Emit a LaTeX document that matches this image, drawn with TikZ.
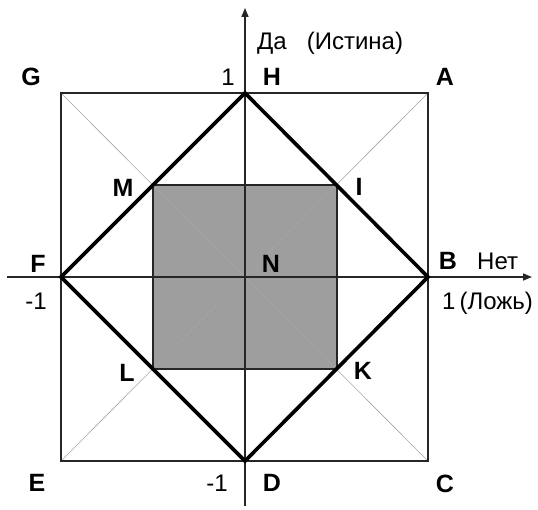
\documentclass[tikz,border=0pt]{standalone}
\usepackage{fontspec}
\setmainfont{Liberation Sans}
\usetikzlibrary{arrows.meta}
\begin{document}
\begin{tikzpicture}[x=1pt,y=-1pt,
  lbl/.style={font=\fontsize{25}{29}\selectfont\bfseries,inner sep=0pt},
  txt/.style={font=\fontsize{24}{28}\selectfont,inner sep=0pt},
  diag/.style={draw=gray!70,line width=0.6pt},
  axis/.style={draw=black!85,line width=1.6pt,-{Triangle[length=9pt,width=7pt]}},
  frame/.style={draw=black!85,line width=1.8pt},
  rhomb/.style={draw=black,line width=3.6pt,line join=miter},
  inner/.style={fill=black!38,draw=black!85,line width=1.6pt}]
\useasboundingbox (0,0) rectangle (538,510);
% corner points
\coordinate (pA) at (428,93);
\coordinate (pB) at (428,277);
\coordinate (pC) at (428,461);
\coordinate (pD) at (245,461);
\coordinate (pE) at (61,461);
\coordinate (pF) at (61,277);
\coordinate (pG) at (61,93);
\coordinate (pH) at (245,93);
\coordinate (pN) at (245,277);
\coordinate (pM) at (153,185);
\coordinate (pI) at (337,185);
\coordinate (pK) at (337,369);
\coordinate (pL) at (153,369);
\coordinate (xs) at (7,277);
\coordinate (xe) at (532,277);
\coordinate (ys) at (245,506);
\coordinate (ye) at (245,8);
% shaded square
\path[inner] (pM) -- (pI) -- (pK) -- (pL) -- cycle;
% diagonals
\draw[diag] (pG) -- (pC);
\draw[diag] (pA) -- (pE);
% axes
\draw[axis] (xs) -- (xe);
\draw[axis] (ys) -- (ye);
% outer square
\draw[frame] (pG) -- (pA) -- (pC) -- (pE) -- cycle;
% diamond
\draw[rhomb] (pH) -- (pB) -- (pD) -- (pF) -- cycle;
% labels
\node[lbl] (lG) at (31,77) {G};
\node[lbl] (lH) at (272,77) {H};
\node[txt] (o1) at (228,77) {1};
\node[lbl] (lA) at (445,77) {A};
\node[txt,anchor=base west] (yes) at (257,50) {Да\ \ \ (Истина)};
\node[lbl] (lM) at (123,188) {M};
\node[lbl] (lI) at (359,187) {I};
\node[lbl] (lF) at (38,264) {F};
\node[txt] (m1) at (36,301) {-1};
\node[lbl] (lN) at (271,264) {N};
\node[lbl] (lB) at (448,261) {B};
\node[txt,anchor=base west] (no) at (477,270) {Нет};
\node[txt,anchor=base west] (fl) at (442,310) {1\,(Ложь)};
\node[lbl] (lL) at (127,373) {L};
\node[lbl] (lK) at (363,371) {K};
\node[lbl] (lE) at (37,483) {E};
\node[txt] (m2) at (217,483) {-1};
\node[lbl] (lD) at (272,483) {D};
\node[lbl] (lC) at (445,484) {C};
\end{tikzpicture}
\end{document}
